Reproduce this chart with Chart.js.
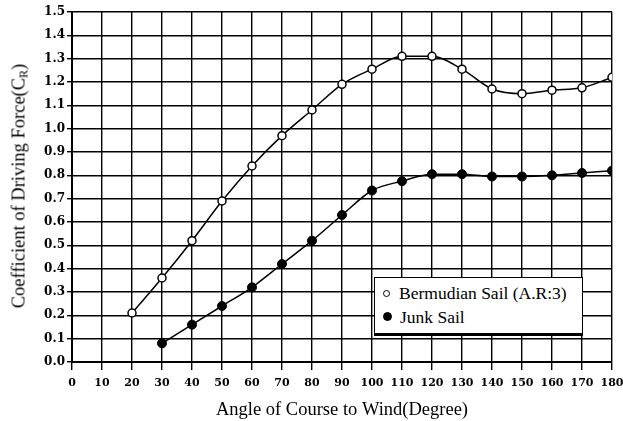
<!DOCTYPE html>
<html>
<head>
<meta charset="utf-8">
<script src="https://cdn.jsdelivr.net/npm/chart.js@4/dist/chart.umd.min.js"></script>
<style>
  html, body { margin: 0; padding: 0; background: #fff; }
  #wrap { position: relative; width: 623px; height: 421px; }
  #c { position: absolute; left: 0; top: 0; }
  #ytitle {
    position: absolute; left: 20px; top: 186px;
    transform: translate(-50%, -50%) rotate(-90deg);
    font-family: "Liberation Serif", serif; font-size: 18.5px; color: #000; white-space: nowrap;
  }
  #ytitle sub { font-size: 12px; vertical-align: -3px; }
  #legend {
    position: absolute; left: 374px; top: 277px; width: 207px; height: 55px;
    border: 1.5px solid #000; border-bottom-width: 3px; background: #fff;
    font-family: "Liberation Serif", serif; font-size: 17.5px; color: #000;
  }
  .li { position: absolute; left: 8px; white-space: nowrap; }
  .mk { display: inline-block; width: 7px; height: 7px; border-radius: 50%; border: 1.5px solid #000; margin-right: 9px; vertical-align: 2px; box-sizing: border-box; }
  .mk.f { background: #000; width: 9px; height: 9px; margin-right: 8px; }
</style>
</head>
<body>
<div id="wrap">
  <canvas id="c" width="623" height="421"></canvas>
  <div id="ytitle">Coefficient of Driving Force(C<sub>R</sub>)</div>
  <div id="legend">
    <div class="li" style="top:5px"><span class="mk"></span>Bermudian Sail (A.R:3)</div>
    <div class="li" style="top:29px"><span class="mk f"></span>Junk Sail</div>
  </div>
</div>
<script>
const bermudianAngles = [20, 30, 40, 50, 60, 70, 80, 90, 100, 110, 120, 130, 140, 150, 160, 170, 180];
const bermudianValues = [0.21, 0.36, 0.52, 0.69, 0.84, 0.97, 1.08, 1.19, 1.255, 1.31, 1.31, 1.255, 1.17, 1.15, 1.165, 1.175, 1.22];
const junkAngles = [30, 40, 50, 60, 70, 80, 90, 100, 110, 120, 130, 140, 150, 160, 170, 180];
const junkValues = [0.08, 0.16, 0.24, 0.32, 0.42, 0.52, 0.63, 0.735, 0.775, 0.805, 0.805, 0.795, 0.795, 0.8, 0.81, 0.82];
const xTitle = "Angle of Course to Wind(Degree)";

const toXY = (xs, ys) => xs.map((x, i) => ({ x: x, y: ys[i] }));
const xTickFont = { family: "DejaVu Serif", size: 11, weight: "bold" };
const yTickFont = { family: "DejaVu Serif", size: 12, weight: "bold" };

new Chart(document.getElementById("c"), {
  type: "line",
  data: {
    datasets: [
      {
        label: "Bermudian Sail (A.R:3)",
        data: toXY(bermudianAngles, bermudianValues),
        borderColor: "#000", borderWidth: 1.5,
        pointBackgroundColor: "#fff", pointBorderColor: "#000",
        pointBorderWidth: 1.5, pointRadius: 4,
        cubicInterpolationMode: "monotone", fill: false
      },
      {
        label: "Junk Sail",
        data: toXY(junkAngles, junkValues),
        borderColor: "#000", borderWidth: 1.5,
        pointBackgroundColor: "#000", pointBorderColor: "#000",
        pointBorderWidth: 1, pointRadius: 4.5,
        cubicInterpolationMode: "monotone", fill: false
      }
    ]
  },
  options: {
    responsive: false,
    animation: false,
    events: [],
    layout: { padding: { left: 0, right: 11, top: 12, bottom: 0 } },
    plugins: { legend: { display: false }, tooltip: { enabled: false } },
    scales: {
      x: {
        type: "linear", min: 0, max: 180,
        ticks: { stepSize: 10, color: "#000", font: xTickFont, padding: 7, maxRotation: 0, autoSkip: false },
        grid: { color: "#000", lineWidth: 1.4, tickLength: 8, drawTicks: true },
        border: { color: "#000", width: 2 },
        title: { display: true, text: xTitle, color: "#000", font: { family: "Liberation Serif", size: 18.5 }, padding: { top: 2, bottom: 0 } },
        afterFit: (s) => { s.height = 59; s.paddingRight = 0; s.paddingLeft = 0; }
      },
      y: {
        min: 0, max: 1.5,
        ticks: { stepSize: 0.1, color: "#000", font: yTickFont, padding: 2, callback: (v) => Number(v).toFixed(1) },
        grid: { color: "#000", lineWidth: 1.4, tickLength: 5 },
        border: { color: "#000", width: 2 },
        afterFit: (s) => { s.width = 72; s.paddingTop = 0; s.paddingBottom = 0; }
      }
    }
  }
});
</script>
</body>
</html>
